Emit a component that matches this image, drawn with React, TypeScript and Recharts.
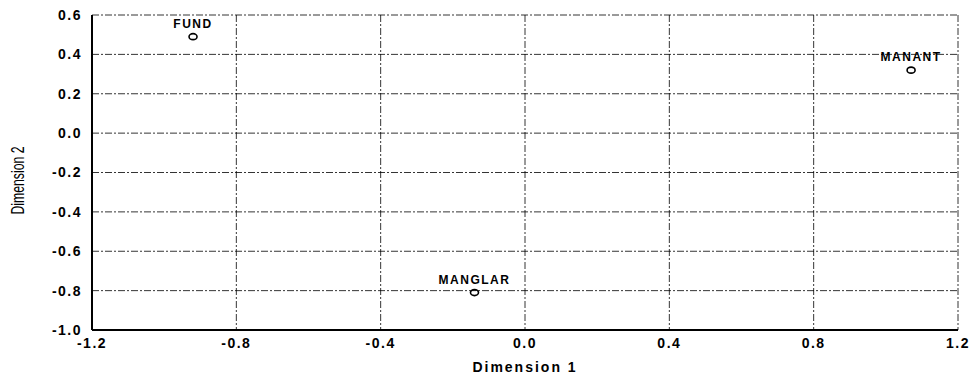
import { ScatterChart, Scatter, XAxis, YAxis, CartesianGrid, Label } from 'recharts';

const pointNames = ['FUND', 'MANANT', 'MANGLAR'];
const dim1 = [-0.92, 1.07, -0.14];
const dim2 = [0.49, 0.32, -0.81];
const xTicks = [-1.2, -0.8, -0.4, 0, 0.4, 0.8, 1.2];
const yTicks = [-1.0, -0.8, -0.6, -0.4, -0.2, 0, 0.2, 0.4, 0.6];

const points = pointNames.map((name, i) => ({ name, x: dim1[i], y: dim2[i] }));

const font = 'Arial, "Liberation Sans", Helvetica, sans-serif';

// small open ring with the site name sitting on top
const PointShape = (props: any) => {
  const { cx, cy, payload } = props;
  return (
    <g>
      <ellipse cx={cx} cy={cy} rx={4} ry={3} fill="none" stroke="#000" strokeWidth={1.6} />
      <text x={cx} y={cy - 9} textAnchor="middle" fontFamily={font} fontSize={12} fontWeight="bold" letterSpacing={1.5} fill="#000">
        {payload.name}
      </text>
    </g>
  );
};

// narrow, squeezed y title like the original print
const YTitle = (props: any) => {
  const { viewBox } = props;
  const cx = 18;
  const cy = viewBox.y + viewBox.height / 2 + 8;
  return (
    <text
      x={cx}
      y={cy}
      transform={`rotate(-90, ${cx}, ${cy})`}
      textAnchor="middle"
      dominantBaseline="central"
      fontFamily={font}
      fontSize={18}
      fill="#000"
      textLength={68}
      lengthAdjust="spacingAndGlyphs"
    >
      Dimension 2
    </text>
  );
};

const tickStyle = { fontFamily: font, fontSize: 14, fontWeight: 'bold', fill: '#000', letterSpacing: 1.5 };

export default function App() {
  return (
    <div style={{ position: 'absolute', left: 0, top: 0, width: 973, height: 374, background: '#fff' }}>
      <ScatterChart width={973} height={374} margin={{ top: 15, right: 15, bottom: 0, left: 0 }}>
        <CartesianGrid stroke="#000" strokeWidth={0.8} strokeDasharray="7 2 2 2" />
        <XAxis
          type="number"
          dataKey="x"
          domain={[-1.2, 1.2]}
          ticks={xTicks}
          tickFormatter={(v: number) => v.toFixed(1)}
          tick={tickStyle}
          tickLine={false}
          axisLine={{ stroke: '#000', strokeWidth: 2 }}
          height={44}
          tickMargin={2}
        >
          <Label value="Dimension 1" position="insideBottom" offset={2} style={{ fontFamily: font, fontSize: 14, fontWeight: 'bold', fill: '#000', letterSpacing: 2 }} />
        </XAxis>
        <XAxis xAxisId="top" orientation="top" type="number" dataKey="x" domain={[-1.2, 1.2]} tick={false} tickLine={false} height={0} axisLine={{ stroke: '#000', strokeWidth: 2 }} />
        <YAxis
          type="number"
          dataKey="y"
          domain={[-1.0, 0.6]}
          ticks={yTicks}
          tickFormatter={(v: number) => v.toFixed(1)}
          tick={tickStyle}
          tickLine={false}
          axisLine={{ stroke: '#000', strokeWidth: 2 }}
          width={92}
          tickMargin={4}
        >
          <Label content={<YTitle />} />
        </YAxis>
        <YAxis yAxisId="right" orientation="right" type="number" dataKey="y" domain={[-1.0, 0.6]} tick={false} tickLine={false} width={0} axisLine={{ stroke: '#000', strokeWidth: 2 }} />
        <Scatter data={points} shape={<PointShape />} isAnimationActive={false} />
      </ScatterChart>
    </div>
  );
}
